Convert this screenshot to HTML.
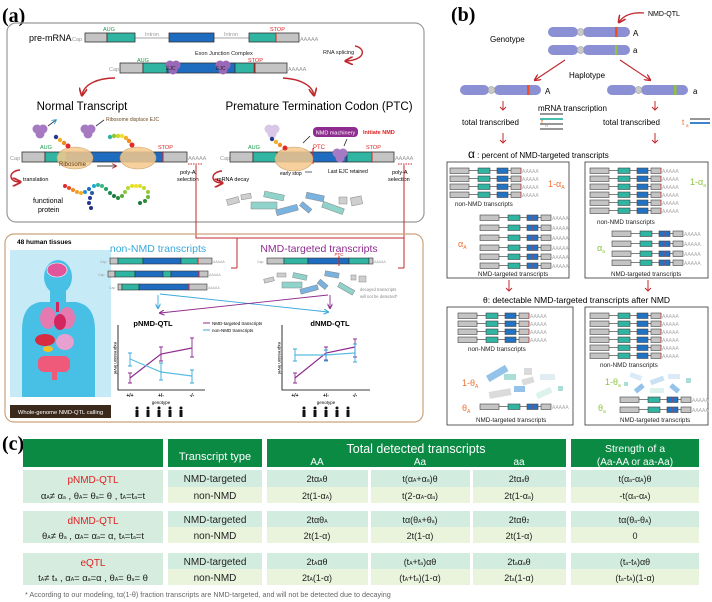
<!DOCTYPE html>
<html><head><meta charset="utf-8"><style>
html,body{margin:0;padding:0;background:#fff}
svg{display:block;font-family:"Liberation Sans",sans-serif}
</style></head><body>
<svg width="712" height="602" viewBox="0 0 712 602" xmlns="http://www.w3.org/2000/svg">
<defs>
<g id="tr">
<line x1="0" y1="2.5" x2="70" y2="2.5" stroke="#555" stroke-width="0.8"/>
<rect x="0" y="0" width="19" height="5.5" fill="#c4c4c4" stroke="#444" stroke-width="0.6"/>
<rect x="28" y="0" width="12" height="5.5" fill="#2fb5a2" stroke="#444" stroke-width="0.6"/>
<rect x="47" y="0" width="11" height="5.5" fill="#2273c3" stroke="#444" stroke-width="0.6"/>
<rect x="61" y="0" width="10" height="5.5" fill="#c4c4c4" stroke="#444" stroke-width="0.6"/>
<line x1="71" y1="0" x2="71" y2="5.5" stroke="#d33" stroke-width="0.7"/>
</g>
<g id="trn">
<line x1="0" y1="2.5" x2="70" y2="2.5" stroke="#555" stroke-width="0.8"/>
<rect x="0" y="0" width="19" height="5.5" fill="#c4c4c4" stroke="#444" stroke-width="0.6"/>
<rect x="28" y="0" width="12" height="5.5" fill="#2fb5a2" stroke="#444" stroke-width="0.6"/>
<rect x="47" y="0" width="11" height="5.5" fill="#2273c3" stroke="#444" stroke-width="0.6"/>
<line x1="53" y1="0" x2="53" y2="5.5" stroke="#d33" stroke-width="0.8"/>
<rect x="61" y="0" width="10" height="5.5" fill="#c4c4c4" stroke="#444" stroke-width="0.6"/>
</g>
<g id="ejc"><circle cx="-3" cy="-2" r="4.5"/><circle cx="3" cy="-2" r="4.5"/><circle cx="0" cy="3" r="4.5"/></g>
<marker id="ar" markerWidth="6" markerHeight="6" refX="5" refY="3" orient="auto"><path d="M0,0 L6,3 L0,6" fill="none" stroke="#c0282d" stroke-width="1.2"/></marker>
<marker id="ab" markerWidth="6" markerHeight="6" refX="5" refY="3" orient="auto"><path d="M0,0 L6,3 L0,6" fill="none" stroke="#3aa8dc" stroke-width="1.2"/></marker>
<marker id="ap" markerWidth="6" markerHeight="6" refX="5" refY="3" orient="auto"><path d="M0,0 L6,3 L0,6" fill="none" stroke="#8e2b8e" stroke-width="1.2"/></marker>
</defs>

<!-- ============ (a) ============ -->
<text x="2" y="22" font-family="Liberation Serif,serif" font-weight="bold" font-size="20">(a)</text>
<rect x="7" y="23" width="417" height="199" rx="9" fill="none" stroke="#999" stroke-width="1.2"/>

<text x="29" y="41" font-size="9">pre-mRNA</text>
<text x="72" y="41" font-size="5.5" fill="#999">Cap</text>
<line x1="135" y1="38" x2="249" y2="38" stroke="#888" stroke-width="0.8"/>
<rect x="85" y="33" width="22" height="9" fill="#c4c4c4" stroke="#333" stroke-width="0.8"/>
<rect x="107" y="33" width="28" height="9" fill="#2fb5a2" stroke="#333" stroke-width="0.8"/>
<rect x="169" y="33" width="45" height="9" fill="#1e6cc0" stroke="#333" stroke-width="0.8"/>
<rect x="249" y="33" width="27" height="9" fill="#2fb5a2" stroke="#333" stroke-width="0.8"/>
<rect x="276" y="33" width="23" height="9" fill="#c4c4c4" stroke="#333" stroke-width="0.8"/>
<line x1="276" y1="33" x2="276" y2="42" stroke="#d22" stroke-width="1"/>
<text x="300" y="41" font-size="5.5" fill="#999">AAAAA</text>
<text x="103" y="31" font-size="5.5" fill="#1a9b4a">AUG</text>
<text x="145" y="36" font-size="5.5" fill="#999">Intron</text>
<text x="224" y="36" font-size="5.5" fill="#999">Intron</text>
<text x="270" y="31" font-size="5.5" fill="#d22">STOP</text>

<text x="195" y="55" font-size="5.5" fill="#222">Exon Junction Complex</text>
<text x="109" y="71" font-size="5.5" fill="#999">Cap</text>
<rect x="120" y="63" width="23" height="10" fill="#c4c4c4" stroke="#333" stroke-width="0.8"/>
<rect x="143" y="63" width="24" height="10" fill="#2fb5a2" stroke="#333" stroke-width="0.8"/>
<rect x="167" y="63" width="68" height="10" fill="#1e6cc0" stroke="#333" stroke-width="0.8"/>
<rect x="235" y="63" width="20" height="10" fill="#2fb5a2" stroke="#333" stroke-width="0.8"/>
<rect x="255" y="63" width="32" height="10" fill="#c4c4c4" stroke="#333" stroke-width="0.8"/>
<line x1="254" y1="63" x2="254" y2="73" stroke="#d22" stroke-width="1"/>
<text x="288" y="71" font-size="5.5" fill="#999">AAAAA</text>
<text x="137" y="62" font-size="5.5" fill="#1a9b4a">AUG</text>
<text x="248" y="62" font-size="5.5" fill="#d22">STOP</text>
<use href="#ejc" x="173" y="67" fill="#9b67b7"/>
<use href="#ejc" x="223" y="67" fill="#9b67b7"/>
<text x="166" y="70" font-size="5" fill="#222">EJC</text>
<text x="216" y="70" font-size="5" fill="#222">EJC</text>
<text x="323" y="54" font-size="5.5" fill="#222">RNA splicing</text>
<path d="M355,46 C366,48 366,60 346,61" fill="none" stroke="#c0282d" stroke-width="1.4" marker-end="url(#ar)"/>
<path d="M115,78 C98,78 84,84 82,95" fill="none" stroke="#c0282d" stroke-width="1.4" marker-end="url(#ar)"/>
<path d="M283,78 C300,79 312,85 314,95" fill="none" stroke="#c0282d" stroke-width="1.4" marker-end="url(#ar)"/>

<text x="82" y="110" font-size="11.5" text-anchor="middle">Normal Transcript</text>
<text x="319" y="110" font-size="11.5" text-anchor="middle">Premature Termination Codon (PTC)</text>

<use href="#ejc" x="40" y="131" fill="#a57ac2"/>
<use href="#ejc" x="88" y="131" fill="#a57ac2"/>
<use href="#ejc" x="272" y="131" fill="#d9c7e8"/>
<path d="M48,126 L56,120" stroke="#334" stroke-width="0.8" marker-end="url(#ab)"/>
<path d="M96,126 L104,120" stroke="#334" stroke-width="0.8"/>
<text x="106" y="121" font-size="5" fill="#6b4a22">Ribosome displace EJC</text>

<!-- normal transcript -->
<text x="10" y="160" font-size="5.5" fill="#999">Cap</text>
<rect x="22" y="152" width="23" height="10" fill="#c4c4c4" stroke="#333" stroke-width="0.8"/>
<rect x="45" y="152" width="22" height="10" fill="#2fb5a2" stroke="#333" stroke-width="0.8"/>
<rect x="67" y="152" width="96" height="10" fill="#1e6cc0" stroke="#333" stroke-width="0.8"/>
<rect x="163" y="152" width="24" height="10" fill="#c4c4c4" stroke="#333" stroke-width="0.8"/>
<line x1="163" y1="152" x2="163" y2="162" stroke="#d22" stroke-width="1"/>
<text x="188" y="160" font-size="5.5" fill="#999">AAAAA</text>
<text x="40" y="149" font-size="5.5" fill="#1a9b4a">AUG</text>
<text x="158" y="149" font-size="5.5" fill="#d22">STOP</text>
<ellipse cx="75" cy="158" rx="18" ry="11" fill="#f4c98c" fill-opacity="0.85" stroke="#c9a06a" stroke-width="0.6"/>
<ellipse cx="138" cy="158" rx="18" ry="11" fill="#f4c98c" fill-opacity="0.85" stroke="#c9a06a" stroke-width="0.6"/>
<text x="59" y="166" font-size="6" fill="#5a3a1a">Ribosome</text>
<line x1="97" y1="166" x2="116" y2="166" stroke="#000" stroke-width="0.8" marker-end="url(#ar)"/>
<g>
<circle cx="56" cy="137" r="2.2" fill="#263892"/><circle cx="60" cy="140" r="2.2" fill="#f2b02a"/><circle cx="64" cy="143" r="2.2" fill="#f08a22"/><circle cx="68" cy="146" r="2.5" fill="#e02a2a"/>
<circle cx="110" cy="137" r="2.2" fill="#2fb5a2"/><circle cx="114" cy="136" r="2.2" fill="#8cc63f"/><circle cx="118" cy="136" r="2.2" fill="#c7d92c"/><circle cx="122" cy="136" r="2.2" fill="#f2e02a"/><circle cx="126" cy="138" r="2.2" fill="#f2b02a"/><circle cx="129" cy="141" r="2.2" fill="#f08a22"/><circle cx="132" cy="145" r="2.5" fill="#e02a2a"/>
</g>
<line x1="188" y1="164" x2="203" y2="164" stroke="#c0282d" stroke-width="1" stroke-dasharray="1.5,1"/>
<text x="180" y="174" font-size="5.5">poly-A</text>
<text x="177" y="181" font-size="5.5">selection</text>
<path d="M20,170 C8,171 8,182 20,182" fill="none" stroke="#c0282d" stroke-width="1.5" marker-end="url(#ar)"/>
<text x="23" y="181" font-size="5.5">translation</text>
<text x="33" y="203" font-size="7">functional</text>
<text x="38" y="212" font-size="7">protein</text>
<g>
<circle cx="65" cy="186" r="2" fill="#e02a2a"/><circle cx="69" cy="188" r="2" fill="#e84a2a"/><circle cx="73" cy="190" r="2" fill="#f08a22"/><circle cx="77" cy="192" r="2" fill="#f2a02a"/><circle cx="81" cy="193" r="2" fill="#f2b02a"/>
<circle cx="85" cy="192" r="2" fill="#2a8fd8"/><circle cx="89" cy="189" r="2" fill="#1e6cc0"/><circle cx="92" cy="193" r="2" fill="#2a5aa0"/><circle cx="90" cy="198" r="2" fill="#263892"/><circle cx="89" cy="203" r="2" fill="#263892"/><circle cx="91" cy="208" r="2" fill="#283080"/>
<circle cx="94" cy="186" r="2" fill="#1eaac8"/><circle cx="98" cy="185" r="2" fill="#2fb5a2"/><circle cx="102" cy="186" r="2" fill="#3bb880"/><circle cx="106" cy="189" r="2" fill="#22a060"/><circle cx="110" cy="193" r="2" fill="#1a8a50"/><circle cx="114" cy="196" r="2" fill="#1a7a40"/><circle cx="118" cy="198" r="2" fill="#2a8a3a"/><circle cx="122" cy="196" r="2" fill="#5aaa3a"/>
<circle cx="125" cy="192" r="2" fill="#8cc63f"/><circle cx="128" cy="188" r="2" fill="#b8d83a"/><circle cx="132" cy="186" r="2" fill="#e0e02a"/><circle cx="136" cy="186" r="2" fill="#f2e02a"/><circle cx="140" cy="186" r="2" fill="#e0e02a"/><circle cx="144" cy="188" r="2" fill="#c7d92c"/><circle cx="148" cy="192" r="2" fill="#9ac83a"/><circle cx="148" cy="197" r="2" fill="#6ab83a"/><circle cx="145" cy="201" r="2" fill="#2a8a3a"/><circle cx="140" cy="203" r="2" fill="#1a7a40"/>
</g>

<!-- PTC transcript -->
<text x="220" y="160" font-size="5.5" fill="#999">Cap</text>
<rect x="230" y="152" width="23" height="10" fill="#c4c4c4" stroke="#333" stroke-width="0.8"/>
<rect x="253" y="152" width="24" height="10" fill="#2fb5a2" stroke="#333" stroke-width="0.8"/>
<rect x="277" y="152" width="70" height="10" fill="#1e6cc0" stroke="#333" stroke-width="0.8"/>
<rect x="347" y="152" width="25" height="10" fill="#2fb5a2" stroke="#333" stroke-width="0.8"/>
<rect x="372" y="152" width="22" height="10" fill="#c4c4c4" stroke="#333" stroke-width="0.8"/>
<line x1="313" y1="148" x2="313" y2="164" stroke="#d22" stroke-width="1"/>
<line x1="372" y1="152" x2="372" y2="162" stroke="#d22" stroke-width="1"/>
<text x="395" y="160" font-size="5.5" fill="#999">AAAAA</text>
<text x="248" y="149" font-size="5.5" fill="#1a9b4a">AUG</text>
<text x="313" y="149" font-size="6" fill="#d22">PTC</text>
<text x="366" y="149" font-size="5.5" fill="#d22">STOP</text>
<ellipse cx="294" cy="159" rx="19" ry="12" fill="#f4c98c" fill-opacity="0.85" stroke="#c9a06a" stroke-width="0.6"/>
<use href="#ejc" x="340" y="155" fill="#a57ac2"/>
<circle cx="272" cy="139" r="2.2" fill="#263892"/><circle cx="276" cy="142" r="2.2" fill="#f2b02a"/><circle cx="280" cy="145" r="2.2" fill="#f08a22"/><circle cx="285" cy="148" r="2.5" fill="#e02a2a"/>
<rect x="313" y="127" width="45" height="10" rx="4" fill="#8e2b8e"/>
<text x="335.5" y="134.5" font-size="5.5" fill="#fff" text-anchor="middle">NMD machinery</text>
<text x="363" y="134" font-size="5.5" fill="#e02020" font-weight="bold">Initiate NMD</text>
<line x1="310" y1="136" x2="303" y2="143" stroke="#222" stroke-width="0.8"/>
<line x1="347" y1="139" x2="344" y2="146" stroke="#222" stroke-width="0.8"/>
<text x="280" y="175" font-size="5">early stop</text>
<line x1="305" y1="172" x2="312" y2="172" stroke="#222" stroke-width="0.7"/>
<text x="328" y="173" font-size="5">Last EJC retained</text>
<line x1="398" y1="164" x2="413" y2="164" stroke="#c0282d" stroke-width="1" stroke-dasharray="1.5,1"/>
<text x="392" y="174" font-size="5.5">poly-A</text>
<text x="388" y="181" font-size="5.5">selection</text>
<path d="M222,171 C210,172 210,183 222,183" fill="none" stroke="#c0282d" stroke-width="1.5" marker-end="url(#ar)"/>
<text x="217" y="181" font-size="5.5">mRNA decay</text>
<g stroke="#888" stroke-width="0.5">
<rect x="227" y="198" width="12" height="6" fill="#cfcfcf" transform="rotate(-15 233 201)"/>
<rect x="241" y="194" width="10" height="5" fill="#cfcfcf" transform="rotate(-10 246 196)"/>
<rect x="264" y="193" width="20" height="6" fill="#8fd3ca" transform="rotate(12 274 196)"/>
<rect x="251" y="202" width="26" height="7" fill="#8fd3ca"/>
<rect x="276" y="207" width="22" height="6" fill="#7ab2e0" transform="rotate(-15 287 210)"/>
<rect x="306" y="194" width="18" height="6" fill="#7ab2e0" transform="rotate(12 315 197)"/>
<rect x="300" y="205" width="12" height="5" fill="#7ab2e0" transform="rotate(40 306 207)"/>
<rect x="322" y="205" width="22" height="6" fill="#8fd3ca" transform="rotate(20 333 208)"/>
<rect x="339" y="197" width="8" height="7" fill="#cfcfcf"/>
<rect x="351" y="197" width="11" height="8" fill="#cfcfcf" transform="rotate(-12 356 201)"/>
</g>

<!-- red connectors -->
<polyline points="196,165 196,238 404,238" fill="none" stroke="#c0282d" stroke-width="1"/>
<line x1="404" y1="165" x2="404" y2="268" stroke="#c0282d" stroke-width="1"/>
<line x1="398" y1="268" x2="404" y2="268" stroke="#c0282d" stroke-width="1"/>
<line x1="237" y1="238" x2="237" y2="268" stroke="#c0282d" stroke-width="1"/>
<line x1="231" y1="268" x2="237" y2="268" stroke="#c0282d" stroke-width="1"/>

<!-- lower box (a) -->
<rect x="5" y="234" width="418" height="188" rx="9" fill="none" stroke="#c9a27a" stroke-width="1.2"/>
<text x="17" y="244" font-size="6.5" font-weight="bold">48 human tissues</text>
<rect x="10" y="250" width="101" height="147" fill="#c6ebf7"/>
<g fill="#48c0e6">
<ellipse cx="58" cy="277" rx="14" ry="17"/>
<rect x="50" y="290" width="16" height="12"/>
<path d="M22,397 L22,330 Q22,305 40,302 L76,302 Q95,305 95,330 L95,397 Z"/>
</g>
<ellipse cx="57" cy="270" rx="10" ry="7" fill="#e2559a" stroke="#fff" stroke-width="0.6"/>
<ellipse cx="48" cy="318" rx="8" ry="11" fill="#e57ab0"/>
<ellipse cx="67" cy="318" rx="8" ry="11" fill="#e57ab0"/>
<ellipse cx="60" cy="322" rx="6" ry="8" fill="#d4265e"/>
<rect x="56" y="302" width="3" height="10" fill="#d4265e"/>
<ellipse cx="45" cy="340" rx="10" ry="6" fill="#d82a40"/>
<ellipse cx="65" cy="342" rx="9" ry="8" fill="#e8a0d0"/>
<ellipse cx="48" cy="349" rx="5" ry="3" fill="#f2c12a"/>
<rect x="38" y="356" width="32" height="16" rx="6" fill="#f05a7a"/>
<rect x="52" y="370" width="5" height="10" fill="#f05a7a"/>
<rect x="10" y="405" width="101" height="13" fill="#3b2a1c"/>
<text x="60.5" y="414" font-size="5.8" fill="#fff" text-anchor="middle">Whole-genome NMD-QTL calling</text>

<text x="158" y="252" font-size="10.5" fill="#3aa8dc" text-anchor="middle">non-NMD transcripts</text>
<text x="319" y="252" font-size="10.5" fill="#8e2b8e" text-anchor="middle">NMD-targeted transcripts</text>

<g stroke="#333" stroke-width="0.6">
<rect x="110" y="258" width="8" height="6" fill="#c4c4c4"/><rect x="118" y="258" width="25" height="6" fill="#2fb5a2"/><rect x="143" y="258" width="38" height="6" fill="#1e6cc0"/><rect x="181" y="258" width="17" height="6" fill="#2fb5a2"/><rect x="198" y="258" width="14" height="6" fill="#c4c4c4"/>
<rect x="108" y="271" width="7" height="6" fill="#c4c4c4"/><rect x="115" y="271" width="20" height="6" fill="#2fb5a2"/><rect x="135" y="271" width="28" height="6" fill="#1e6cc0"/><rect x="163" y="271" width="8" height="6" fill="#2fb5a2"/><rect x="171" y="271" width="28" height="6" fill="#1e6cc0"/><rect x="199" y="271" width="9" height="6" fill="#c4c4c4"/>
<rect x="118" y="284" width="4" height="6" fill="#c4c4c4"/><rect x="122" y="284" width="17" height="6" fill="#2fb5a2"/><rect x="139" y="284" width="50" height="6" fill="#1e6cc0"/><rect x="189" y="284" width="18" height="6" fill="#c4c4c4"/>
<rect x="267" y="258" width="17" height="6" fill="#c4c4c4"/><rect x="284" y="258" width="24" height="6" fill="#2fb5a2"/><rect x="308" y="258" width="41" height="6" fill="#1e6cc0"/><rect x="349" y="258" width="20" height="6" fill="#2fb5a2"/><rect x="369" y="258" width="4" height="6" fill="#c4c4c4"/>
</g>
<line x1="198" y1="258" x2="198" y2="264" stroke="#d22"/><line x1="199" y1="271" x2="199" y2="277" stroke="#d22"/><line x1="189" y1="284" x2="189" y2="290" stroke="#d22"/>
<line x1="339" y1="256" x2="339" y2="266" stroke="#d22"/>
<text x="339" y="256" font-size="4.5" fill="#d22" text-anchor="middle">PTC</text>
<g font-size="3.5" fill="#999"><text x="100" y="263">Cap</text><text x="213" y="263">AAAAA</text><text x="98" y="276">Cap</text><text x="209" y="276">AAAAA</text><text x="109" y="289">Cap</text><text x="208" y="289">AAAAA</text><text x="257" y="263">Cap</text><text x="374" y="263">AAAAA</text></g>
<g stroke="#888" stroke-width="0.5">
<rect x="264" y="278" width="10" height="4" fill="#cfcfcf" transform="rotate(-15 269 280)"/>
<rect x="277" y="273" width="9" height="4" fill="#cfcfcf"/>
<rect x="282" y="282" width="20" height="6" fill="#8fd3ca"/>
<rect x="293" y="274" width="14" height="5" fill="#8fd3ca" transform="rotate(12 300 276)"/>
<rect x="300" y="287" width="18" height="5" fill="#7ab2e0" transform="rotate(-15 309 289)"/>
<rect x="325" y="272" width="14" height="5" fill="#7ab2e0" transform="rotate(10 332 274)"/>
<rect x="318" y="282" width="10" height="5" fill="#7ab2e0" transform="rotate(40 323 284)"/>
<rect x="338" y="286" width="17" height="5" fill="#8fd3ca" transform="rotate(30 346 288)"/>
<rect x="351" y="275" width="5" height="5" fill="#cfcfcf"/><rect x="359" y="276" width="7" height="6" fill="#cfcfcf"/>
</g>
<text x="360" y="291" font-size="4.2" fill="#888">decayed transcripts</text>
<text x="360" y="298" font-size="4.2" fill="#888">will not be detected*</text>

<line x1="158" y1="295" x2="158" y2="308" stroke="#3aa8dc" stroke-width="0.9" marker-end="url(#ab)"/>
<line x1="160" y1="294" x2="328" y2="312" stroke="#3aa8dc" stroke-width="0.9" marker-end="url(#ab)"/>
<line x1="330" y1="295" x2="330" y2="308" stroke="#8e2b8e" stroke-width="0.9" marker-end="url(#ap)"/>
<line x1="328" y1="295" x2="160" y2="313" stroke="#8e2b8e" stroke-width="0.9" marker-end="url(#ap)"/>
<text x="153" y="326" font-size="7.5" font-weight="bold" text-anchor="middle">pNMD-QTL</text>
<text x="330" y="326" font-size="7.5" font-weight="bold" text-anchor="middle">dNMD-QTL</text>
<line x1="203" y1="323" x2="210" y2="323" stroke="#8e2b8e" stroke-width="1"/>
<text x="212" y="325" font-size="4.5">NMD-targeted transcripts</text>
<line x1="203" y1="330" x2="210" y2="330" stroke="#3aa8dc" stroke-width="1"/>
<text x="212" y="332" font-size="4.5">non-NMD transcripts</text>

<!-- plot 1 -->
<g stroke="#000" stroke-width="0.8" fill="none">
<polyline points="118,325 118,390 205,390"/><polyline points="282,325 282,390 370,390"/>
</g>
<text x="114" y="358" font-size="4.5" transform="rotate(90 114 358)" text-anchor="middle">expression level</text>
<text x="278" y="358" font-size="4.5" transform="rotate(90 278 358)" text-anchor="middle">expression level</text>
<g fill="none" stroke-width="1.2">
<polyline points="130,378 161,354 192,348" stroke="#8e2b8e"/>
<polyline points="130,359 161,372 192,376" stroke="#5bbde3"/>
<path d="M130,373V383M161,347V361M192,338V357M128,373h4M128,383h4M159,347h4M159,361h4M190,338h4M190,357h4" stroke="#8e2b8e" stroke-width="0.9"/>
<path d="M130,353V366M161,363V380M192,370V383M128,353h4M128,366h4M159,363h4M159,380h4M190,370h4M190,383h4" stroke="#3aa8dc" stroke-width="0.9"/>
<polyline points="295,378 326,353 355,347" stroke="#8e2b8e"/>
<polyline points="295,355 326,355 355,353" stroke="#5bbde3"/>
<path d="M295,373V383M326,347V360M355,339V357M293,373h4M293,383h4M324,347h4M324,360h4M353,339h4M353,357h4" stroke="#8e2b8e" stroke-width="0.9"/>
<path d="M295,349V361M326,350V361M355,344V362M293,349h4M293,361h4M324,350h4M324,361h4M353,344h4M353,362h4" stroke="#3aa8dc" stroke-width="0.9"/>
</g>
<g font-size="5" font-weight="bold" text-anchor="middle"><text x="130" y="397">+/+</text><text x="161" y="397">+/-</text><text x="192" y="397">-/-</text><text x="295" y="397">+/+</text><text x="326" y="397">+/-</text><text x="355" y="397">-/-</text></g>
<text x="161" y="404" font-size="4.5" text-anchor="middle">genotype</text>
<text x="326" y="404" font-size="4.5" text-anchor="middle">genotype</text>
<g fill="#111">
<g id="ppl"><circle cx="137" cy="408" r="1.5"/><rect x="135.5" y="410" width="3" height="7"/><circle cx="148" cy="408" r="1.5"/><rect x="146.5" y="410" width="3" height="7"/><circle cx="159" cy="408" r="1.5"/><rect x="157.5" y="410" width="3" height="7"/><circle cx="170" cy="408" r="1.5"/><rect x="168.5" y="410" width="3" height="7"/><circle cx="181" cy="408" r="1.5"/><rect x="179.5" y="410" width="3" height="7"/></g>
<use href="#ppl" x="167"/>
</g>

<!-- ============ (b) ============ -->
<text x="451" y="21" font-family="Liberation Serif,serif" font-weight="bold" font-size="20">(b)</text>
<text x="648" y="16" font-size="7">NMD-QTL</text>
<path d="M644,13 C632,12 624,15 619,22" fill="none" stroke="#c0282d" stroke-width="1.3" marker-end="url(#ar)"/>
<text x="490" y="42" font-size="8">Genotype</text>
<g fill="#8b8fd4">
<rect x="548" y="27" width="30" height="10" rx="5"/><rect x="583" y="27" width="47" height="10" rx="5"/>
<rect x="548" y="45" width="30" height="10" rx="5"/><rect x="583" y="45" width="47" height="10" rx="5"/>
<rect x="460" y="85" width="29" height="10" rx="5"/><rect x="494" y="85" width="47" height="10" rx="5"/>
<rect x="607" y="85" width="29" height="10" rx="5"/><rect x="641" y="85" width="47" height="10" rx="5"/>
</g>
<g fill="#c8c8c8" stroke="#888" stroke-width="0.5"><circle cx="580.5" cy="32" r="3.5"/><circle cx="580.5" cy="50" r="3.5"/><circle cx="491.5" cy="90" r="3.5"/><circle cx="638.5" cy="90" r="3.5"/></g>
<rect x="615" y="27" width="2.5" height="10" fill="#f05020"/><rect x="615" y="45" width="2.5" height="10" fill="#8cc63f"/>
<rect x="527" y="85" width="2.5" height="10" fill="#f05020"/><rect x="674" y="85" width="2.5" height="10" fill="#8cc63f"/>
<text x="633" y="36" font-size="8">A</text><text x="633" y="53" font-size="8">a</text>
<text x="545" y="94" font-size="8">A</text><text x="693" y="94" font-size="8">a</text>
<line x1="565" y1="60" x2="535" y2="80" stroke="#c0282d" stroke-width="1.1" marker-end="url(#ar)"/>
<line x1="620" y1="60" x2="650" y2="80" stroke="#c0282d" stroke-width="1.1" marker-end="url(#ar)"/>
<text x="569" y="78" font-size="8">Haplotype</text>
<text x="538" y="111" font-size="8">mRNA transcription</text>
<g stroke="#c0282d" stroke-width="1" fill="none">
<path d="M503,101V110M500,107l3,3l3,-3M655,101V110M652,107l3,3l3,-3M503,133V143M500,140l3,3l3,-3M655,133V143M652,140l3,3l3,-3M509,280V291M506,288l3,3l3,-3M648,280V291M645,288l3,3l3,-3"/>
</g>
<text x="462" y="125" font-size="8">total transcribed</text>
<text x="541" y="125" font-size="8" fill="#e07020">t</text><text x="545" y="127" font-size="4.5" fill="#e07020">A</text>
<g stroke-width="1.8"><line x1="540" y1="114" x2="563" y2="114" stroke="#888"/><line x1="540" y1="119" x2="563" y2="119" stroke="#2fb5a2"/><line x1="540" y1="124" x2="563" y2="124" stroke="#888"/><line x1="540" y1="129" x2="563" y2="129" stroke="#888"/>
<line x1="690" y1="119" x2="710" y2="119" stroke="#888"/><line x1="690" y1="123" x2="710" y2="123" stroke="#2273c3"/></g>
<text x="603" y="125" font-size="8">total transcribed</text>
<text x="682" y="125" font-size="8" fill="#e07020">t</text><text x="686" y="127" font-size="4.5" fill="#e07020">a</text>
<text x="468" y="158" font-size="8"><tspan font-size="12">α</tspan> : percent of NMD-targeted transcripts</text>

<rect x="447" y="162" width="122" height="116" fill="none" stroke="#333" stroke-width="0.8"/>
<rect x="585" y="162" width="123" height="116" fill="none" stroke="#333" stroke-width="0.8"/>
<rect x="447" y="307" width="126" height="118" fill="none" stroke="#333" stroke-width="0.8"/>
<rect x="585" y="307" width="123" height="118" fill="none" stroke="#333" stroke-width="0.8"/>
<text x="483" y="303" font-size="8.5">θ: detectable NMD-targeted transcripts  after NMD</text>

<!-- alpha left -->
<g>
<use href="#tr" x="450" y="168"/><use href="#tr" x="450" y="176"/><use href="#tr" x="450" y="184"/><use href="#tr" x="450" y="192"/>
<use href="#trn" x="480" y="215"/><use href="#trn" x="480" y="225"/><use href="#trn" x="480" y="235"/><use href="#trn" x="480" y="245"/><use href="#trn" x="480" y="254"/><use href="#trn" x="480" y="263"/>
<use href="#tr" x="590" y="168"/><use href="#tr" x="590" y="176"/><use href="#tr" x="590" y="184"/><use href="#tr" x="590" y="192"/><use href="#tr" x="590" y="200"/><use href="#tr" x="590" y="208"/>
<use href="#trn" x="612" y="231"/><use href="#trn" x="612" y="241"/><use href="#trn" x="612" y="251"/><use href="#trn" x="612" y="260"/>
<use href="#tr" x="458" y="313"/><use href="#tr" x="458" y="321"/><use href="#tr" x="458" y="329"/><use href="#tr" x="458" y="337"/>
<use href="#trn" x="480" y="404"/>
<use href="#tr" x="590" y="313"/><use href="#tr" x="590" y="321"/><use href="#tr" x="590" y="329"/><use href="#tr" x="590" y="337"/><use href="#tr" x="590" y="345"/><use href="#tr" x="590" y="353"/>
<use href="#trn" x="620" y="397"/><use href="#trn" x="620" y="407"/>
</g>
<g font-size="5" fill="#aaa">
<text x="522" y="173">AAAAA</text><text x="522" y="181">AAAAA</text><text x="522" y="189">AAAAA</text><text x="522" y="197">AAAAA</text>
<text x="552" y="220">AAAAA</text><text x="552" y="230">AAAAA</text><text x="552" y="240">AAAAA</text><text x="552" y="250">AAAAA</text><text x="552" y="259">AAAAA</text><text x="552" y="268">AAAAA</text>
<text x="662" y="173">AAAAA</text><text x="662" y="181">AAAAA</text><text x="662" y="189">AAAAA</text><text x="662" y="197">AAAAA</text><text x="662" y="205">AAAAA</text><text x="662" y="213">AAAAA</text>
<text x="684" y="236">AAAAA</text><text x="684" y="246">AAAAA</text><text x="684" y="256">AAAAA</text><text x="684" y="265">AAAAA</text>
<text x="530" y="318">AAAAA</text><text x="530" y="326">AAAAA</text><text x="530" y="334">AAAAA</text><text x="530" y="342">AAAAA</text>
<text x="552" y="409">AAAAA</text>
<text x="662" y="318">AAAAA</text><text x="662" y="326">AAAAA</text><text x="662" y="334">AAAAA</text><text x="662" y="342">AAAAA</text><text x="662" y="350">AAAAA</text><text x="662" y="358">AAAAA</text>
<text x="692" y="402">AAAAA</text><text x="692" y="412">AAAAA</text>
</g>
<g font-size="6.3" fill="#222">
<text x="455" y="206">non-NMD transcripts</text><text x="478" y="276">NMD-targeted transcripts</text>
<text x="597" y="224">non-NMD transcripts</text><text x="611" y="276">NMD-targeted transcripts</text>
<text x="468" y="351">non-NMD transcripts</text><text x="476" y="422">NMD-targeted transcripts</text>
<text x="600" y="367">non-NMD transcripts</text><text x="620" y="422">NMD-targeted transcripts</text>
</g>
<text x="548" y="187" font-size="9" fill="#f07030">1-α<tspan font-size="5" dy="2">A</tspan></text>
<text x="458" y="247" font-size="9" fill="#f07030">α<tspan font-size="5" dy="2">A</tspan></text>
<text x="690" y="185" font-size="9" fill="#8cc63f">1-α<tspan font-size="5" dy="2">a</tspan></text>
<text x="597" y="251" font-size="9" fill="#8cc63f">α<tspan font-size="5" dy="2">a</tspan></text>
<text x="462" y="386" font-size="9" fill="#f07030">1-θ<tspan font-size="5" dy="2">A</tspan></text>
<text x="462" y="411" font-size="9" fill="#f07030">θ<tspan font-size="5" dy="2">A</tspan></text>
<text x="605" y="385" font-size="9" fill="#8cc63f">1-θ<tspan font-size="5" dy="2">a</tspan></text>
<text x="598" y="411" font-size="9" fill="#8cc63f">θ<tspan font-size="5" dy="2">a</tspan></text>
<g opacity="0.75">
<rect x="486" y="370" width="22" height="7" fill="#6fb0e4" transform="rotate(-30 497 373)"/>
<rect x="504" y="374" width="12" height="6" fill="#8fd3ca"/>
<rect x="524" y="368" width="8" height="7" fill="#cfcfcf"/>
<rect x="522" y="378" width="12" height="6" fill="#cfcfcf" transform="rotate(-15 528 381)"/>
<rect x="540" y="374" width="15" height="6" fill="#d8e8f0"/>
<rect x="489" y="390" width="22" height="7" fill="#cfcfcf" transform="rotate(-10 500 393)"/>
<rect x="514" y="386" width="11" height="6" fill="#6fb0e4"/>
<rect x="536" y="390" width="16" height="6" fill="#d0eee8" transform="rotate(-25 544 393)"/>
<rect x="558" y="386" width="5" height="5" fill="#8fd3ca"/>
<rect x="630" y="374" width="12" height="5" fill="#d0e4f4" transform="rotate(20 636 376)"/>
<rect x="650" y="378" width="14" height="5" fill="#b8d8f0" transform="rotate(-20 657 380)"/>
<rect x="668" y="374" width="12" height="5" fill="#d0e4f4"/>
<rect x="634" y="386" width="10" height="5" fill="#6fb0e4" transform="rotate(-40 639 388)"/>
<rect x="650" y="388" width="14" height="5" fill="#d0eee8"/>
<rect x="670" y="386" width="10" height="5" fill="#6fb0e4" transform="rotate(40 675 388)"/>
<rect x="686" y="378" width="5" height="5" fill="#8fd3ca"/><rect x="624" y="382" width="4" height="4" fill="#8fd3ca"/>
</g>

<!-- ============ (c) table ============ -->
<text x="2" y="450" font-family="Liberation Serif,serif" font-weight="bold" font-size="20">(c)</text>
<g fill="#0b8a44">
<rect x="23" y="439" width="140" height="28"/><rect x="168" y="439" width="94" height="28"/><rect x="267" y="439" width="299" height="28"/><rect x="571" y="439" width="128" height="28"/>
</g>
<g fill="#fff" text-anchor="middle">
<text x="215" y="460" font-size="11">Transcript type</text>
<text x="416" y="453" font-size="12.5">Total detected transcripts</text>
<text x="317" y="465" font-size="10">AA</text><text x="420" y="465" font-size="10">Aa</text><text x="519" y="465" font-size="10">aa</text>
<text x="635" y="452" font-size="10.5">Strength of a</text><text x="635" y="465" font-size="10">(Aa-AA or aa-Aa)</text>
</g>
<g>
<rect x="23" y="470" width="140" height="33" fill="#d5ecdf"/>
<rect x="23" y="511" width="140" height="32" fill="#d5ecdf"/>
<rect x="23" y="553" width="140" height="32" fill="#d5ecdf"/>
</g>
<g fill="#d2ecdf">
<rect x="168" y="470" width="94" height="17"/><rect x="267" y="470" width="101" height="17"/><rect x="371" y="470" width="99" height="17"/><rect x="473" y="470" width="93" height="17"/><rect x="571" y="470" width="128" height="17"/>
<rect x="168" y="511" width="94" height="16"/><rect x="267" y="511" width="101" height="16"/><rect x="371" y="511" width="99" height="16"/><rect x="473" y="511" width="93" height="16"/><rect x="571" y="511" width="128" height="16"/>
<rect x="168" y="553" width="94" height="16"/><rect x="267" y="553" width="101" height="16"/><rect x="371" y="553" width="99" height="16"/><rect x="473" y="553" width="93" height="16"/><rect x="571" y="553" width="128" height="16"/>
</g>
<g fill="#eaf3dc">
<rect x="168" y="487" width="94" height="16"/><rect x="267" y="487" width="101" height="16"/><rect x="371" y="487" width="99" height="16"/><rect x="473" y="487" width="93" height="16"/><rect x="571" y="487" width="128" height="16"/>
<rect x="168" y="527" width="94" height="16"/><rect x="267" y="527" width="101" height="16"/><rect x="371" y="527" width="99" height="16"/><rect x="473" y="527" width="93" height="16"/><rect x="571" y="527" width="128" height="16"/>
<rect x="168" y="569" width="94" height="16"/><rect x="267" y="569" width="101" height="16"/><rect x="371" y="569" width="99" height="16"/><rect x="473" y="569" width="93" height="16"/><rect x="571" y="569" width="128" height="16"/>
</g>
<g text-anchor="middle" font-size="10" fill="#222">
<text x="93" y="483" fill="#e02020">pNMD-QTL</text>
<text x="93" y="499" font-size="9.5">α<tspan font-size="5">A</tspan>≠ α<tspan font-size="5">a</tspan> , θ<tspan font-size="5">A</tspan>= θ<tspan font-size="5">a</tspan>= θ , t<tspan font-size="5">A</tspan>=t<tspan font-size="5">a</tspan>=t</text>
<text x="93" y="524" fill="#e02020">dNMD-QTL</text>
<text x="93" y="539" font-size="9.5">θ<tspan font-size="5">A</tspan>≠ θ<tspan font-size="5">a</tspan> , α<tspan font-size="5">A</tspan>= α<tspan font-size="5">a</tspan>= α, t<tspan font-size="5">A</tspan>=t<tspan font-size="5">a</tspan>=t</text>
<text x="93" y="566" fill="#e02020">eQTL</text>
<text x="93" y="581" font-size="9.5">t<tspan font-size="5">A</tspan>≠ t<tspan font-size="5">a</tspan> , α<tspan font-size="5">A</tspan>= α<tspan font-size="5">a</tspan>=α , θ<tspan font-size="5">A</tspan>= θ<tspan font-size="5">a</tspan>= θ</text>
<text x="215" y="482">NMD-targeted</text><text x="215" y="499">non-NMD</text>
<text x="215" y="523">NMD-targeted</text><text x="215" y="539">non-NMD</text>
<text x="215" y="565">NMD-targeted</text><text x="215" y="581">non-NMD</text>
<g font-size="9">
<text x="317" y="482">2tα<tspan font-size="5">A</tspan>θ</text><text x="420" y="482">t(α<tspan font-size="5">A</tspan>+α<tspan font-size="5">a</tspan>)θ</text><text x="519" y="482">2tα<tspan font-size="5">a</tspan>θ</text><text x="635" y="482">t(α<tspan font-size="5">a</tspan>-α<tspan font-size="5">A</tspan>)θ</text>
<text x="317" y="499">2t(1-α<tspan font-size="5">A</tspan>)</text><text x="420" y="499">t(2-α<tspan font-size="5">A</tspan>-α<tspan font-size="5">a</tspan>)</text><text x="519" y="499">2t(1-α<tspan font-size="5">a</tspan>)</text><text x="635" y="499">-t(α<tspan font-size="5">a</tspan>-α<tspan font-size="5">A</tspan>)</text>
<text x="317" y="523">2tαθ<tspan font-size="5">A</tspan></text><text x="420" y="523">tα(θ<tspan font-size="5">A</tspan>+θ<tspan font-size="5">a</tspan>)</text><text x="519" y="523">2tαθ<tspan font-size="5">2</tspan></text><text x="635" y="523">tα(θ<tspan font-size="5">a</tspan>-θ<tspan font-size="5">A</tspan>)</text>
<text x="317" y="539">2t(1-α)</text><text x="420" y="539">2t(1-α)</text><text x="519" y="539">2t(1-α)</text><text x="635" y="539">0</text>
<text x="317" y="565">2t<tspan font-size="5">A</tspan>αθ</text><text x="420" y="565">(t<tspan font-size="5">A</tspan>+t<tspan font-size="5">a</tspan>)αθ</text><text x="519" y="565">2t<tspan font-size="5">a</tspan>α<tspan font-size="5">a</tspan>θ</text><text x="635" y="565">(t<tspan font-size="5">a</tspan>-t<tspan font-size="5">A</tspan>)αθ</text>
<text x="317" y="581">2t<tspan font-size="5">A</tspan>(1-α)</text><text x="420" y="581">(t<tspan font-size="5">A</tspan>+t<tspan font-size="5">a</tspan>)(1-α)</text><text x="519" y="581">2t<tspan font-size="5">a</tspan>(1-α)</text><text x="635" y="581">(t<tspan font-size="5">a</tspan>-t<tspan font-size="5">A</tspan>)(1-α)</text>
</g>
</g>
<text x="25" y="597" font-size="7.2" fill="#666">* According to our modeling, tα(1-θ) fraction transcripts are NMD-targeted, and will not be detected due to decaying</text>
</svg>
</body></html>
